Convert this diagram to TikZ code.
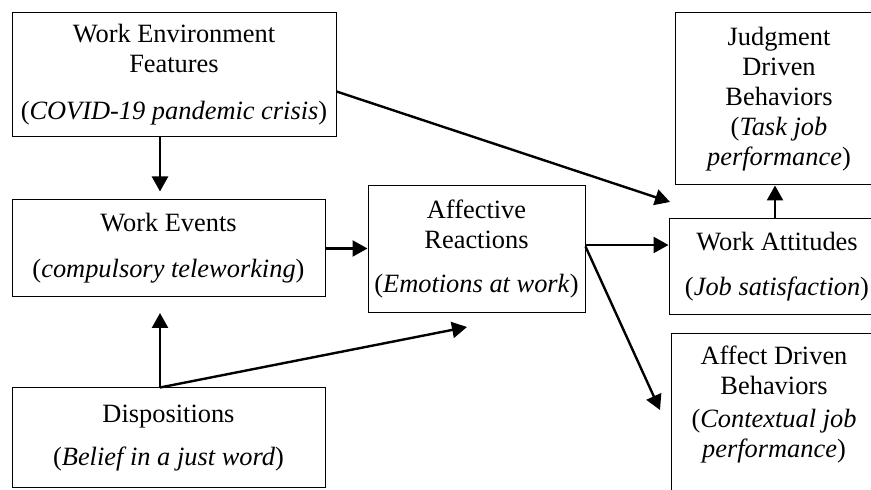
\documentclass[tikz,border=0pt]{standalone}
\usepackage{fontspec}
\setmainfont{Liberation Serif}
\usetikzlibrary{arrows.meta}

\begin{document}
\begin{tikzpicture}[x=0.5pt, y=-0.5pt,
  box/.style={draw, line width=0.5pt, align=center, inner sep=0pt, font=\fontsize{13.2}{15}\selectfont},
  arr/.style={-{Triangle[length=7.5pt,width=8pt]}, line width=1.2pt}]
\useasboundingbox (0,0) rectangle (871,490);
\clip (0,0) rectangle (871,490);
% left column
\node (env) at (174,75) [box, minimum width=162pt, minimum height=62pt] {Work Environment\\Features\\[8.5pt](\textit{COVID-19 pandemic crisis})};
\node (events) at (168.5,248.5) [box, minimum width=156.5pt, minimum height=48.5pt] {Work Events\\[8pt](\textit{compulsory teleworking})};
\node (disp) at (168.5,438) [box, minimum width=156.5pt, minimum height=50pt] {Dispositions\\[6.5pt](\textit{Belief in a just word})};
% middle
\node (affect) at (476.5,249.5) [box, minimum width=108.5pt, minimum height=63.5pt] {Affective\\Reactions\\[7pt](\textit{Emotions at work})};
% right column
\node (judg) at (779,99) [box, minimum width=104pt, minimum height=86pt] {Judgment\\Driven\\Behaviors\\(\textit{Task job}\\\textit{performance})};
\node (attit) at (777,267) [box, minimum width=108pt, minimum height=48pt] {Work Attitudes\\[7.5pt](\textit{Job satisfaction})};
\node (affbeh) at (774,333) [box, anchor=north, inner ysep=6pt, minimum width=103pt] {Affect Driven\\Behaviors\\[1.5pt](\textit{Contextual job}\\\textit{performance})\\[20pt]\mbox{}};
% free arrow ends
\coordinate (tipEW) at (670,202);
\coordinate (tipAB) at (660,410);
\coordinate (tipDE) at (160,313);
\coordinate (tipDA) at (467,327);
% arrows
\draw [arr, shorten >=4pt] ([xshift=-7pt]env.south) -- ([xshift=-7pt]env.south |- events.north);
\draw [arr] ([yshift=-8.25pt]env.east) -- (tipEW);
\draw [arr] (events.east) -- (events.east -| affect.west);
\draw [arr] ([yshift=2.25pt]affect.east) -- ([yshift=2.25pt]affect.east -| attit.west);
\draw [arr] ([yshift=1.5pt]affect.east) -- (tipAB);
\draw [arr] ([xshift=-1pt]attit.north) -- ([xshift=-1pt]attit.north |- judg.south);
\draw [arr] ([xshift=-4.25pt]disp.north) -- (tipDE);
\draw [arr] ([xshift=-4.25pt]disp.north) -- (tipDA);
\end{tikzpicture}
\end{document}
